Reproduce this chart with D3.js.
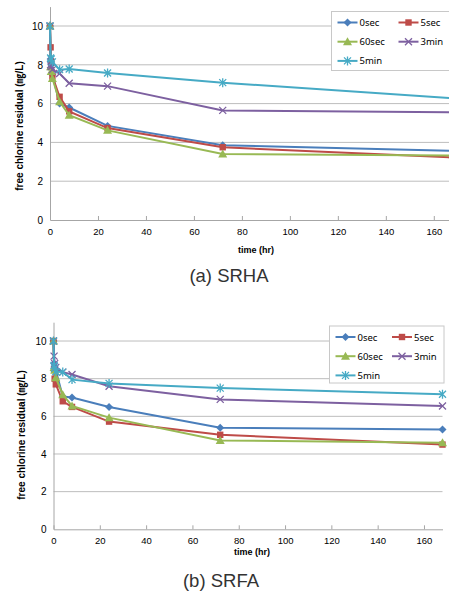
<!DOCTYPE html>
<html><head><meta charset="utf-8">
<script src="https://cdn.jsdelivr.net/npm/d3@7"></script>
<style>
html,body{margin:0;padding:0;background:#fff;overflow:hidden}
svg{display:block}
</style></head>
<body>
<svg id="c" width="449" height="594"></svg>
<script>
const seriesNames = ["0sec", "5sec", "60sec", "3min", "5min"];
const xTicks = [0, 20, 40, 60, 80, 100, 120, 140, 160];
const yTicks = [0, 2, 4, 6, 8, 10];
const timesA = [0, 0.25, 0.5, 1, 4, 8, 24, 72, 168];
const srha0sec  = [10, 8.3, 8.0, 7.5, 6.0, 5.8, 4.85, 3.85, 3.57];
const srha5sec  = [10, 8.9, 8.15, 7.4, 6.35, 5.6, 4.74, 3.75, 3.22];
const srha60sec = [10, 7.9, 7.65, 7.3, 6.1, 5.4, 4.62, 3.4, 3.32];
const srha3min  = [10, 8.0, 7.9, 7.75, 7.55, 7.05, 6.9, 5.65, 5.55];
const srha5min  = [10, 8.35, 8.3, 8.15, 7.75, 7.78, 7.58, 7.08, 6.27];
const timesB = [0, 0.25, 0.5, 1, 4, 8, 24, 72, 168];
const srfa0sec  = [10, 8.8, 8.6, 8.45, 7.05, 7.0, 6.5, 5.4, 5.3];
const srfa5sec  = [10, 8.5, 8.0, 7.7, 6.8, 6.5, 5.72, 5.02, 4.5];
const srfa60sec = [10, 8.6, 8.45, 8.05, 7.15, 6.55, 5.93, 4.72, 4.6];
const srfa3min  = [10, 9.2, 8.8, 8.6, 8.35, 8.22, 7.6, 6.9, 6.55];
const srfa5min  = [10, 8.7, 8.55, 8.37, 8.35, 7.95, 7.75, 7.5, 7.17];

const colors = ["#4a7ebb", "#be4b48", "#98b954", "#7d60a0", "#46aac5"];
const markers = ["diamond", "square", "triangle", "x", "star"];
const svg = d3.select("#c");
const F = "'Liberation Sans', Arial, sans-serif";

function drawMarker(g, type, x, y, color) {
  if (type === "diamond") {
    g.append("path").attr("d", `M${x},${y-4}L${x+4},${y}L${x},${y+4}L${x-4},${y}Z`).attr("fill", color);
  } else if (type === "square") {
    g.append("rect").attr("x", x-3.2).attr("y", y-3.2).attr("width", 6.4).attr("height", 6.4).attr("fill", color);
  } else if (type === "triangle") {
    g.append("path").attr("d", `M${x},${y-4.5}L${x+4.5},${y+3.5}L${x-4.5},${y+3.5}Z`).attr("fill", color);
  } else if (type === "x") {
    g.append("path").attr("d", `M${x-3.5},${y-3.5}L${x+3.5},${y+3.5}M${x-3.5},${y+3.5}L${x+3.5},${y-3.5}`).attr("stroke", color).attr("stroke-width", 1.3);
  } else if (type === "star") {
    g.append("path").attr("d", `M${x-3.5},${y-3.5}L${x+3.5},${y+3.5}M${x-3.5},${y+3.5}L${x+3.5},${y-3.5}M${x},${y-4.5}L${x},${y+4.5}`).attr("stroke", color).attr("stroke-width", 1.3);
  }
}

function panel(cfg) {
  const x = d3.scaleLinear().domain([0, 168]).range([cfg.left, cfg.right]);
  const y = d3.scaleLinear().domain([0, 11]).range([cfg.bottom, cfg.top]);
  const g = svg.append("g");
  g.append("g").selectAll("line").data(yTicks.filter(d => d > 0)).join("line")
    .attr("x1", cfg.left).attr("x2", Math.min(cfg.right, 449))
    .attr("y1", d => y(d)).attr("y2", d => y(d))
    .attr("stroke", "#bdbdbd").attr("stroke-width", 1);
  const ya = g.append("g").attr("transform", `translate(${cfg.left},0)`)
    .call(d3.axisLeft(y).tickValues(yTicks).tickSize(0).tickPadding(7));
  ya.select(".domain").attr("stroke", "#a6a6a6");
  ya.selectAll("text").attr("font-family", F).attr("font-size", 10).attr("fill", "#000");
  const xa = g.append("g").attr("transform", `translate(0,${cfg.bottom})`)
    .call(d3.axisBottom(x).tickValues(xTicks).tickSizeInner(-4).tickSizeOuter(0).tickPadding(8));
  xa.select(".domain").attr("stroke", "#a6a6a6");
  xa.selectAll(".tick line").attr("stroke", "#a6a6a6");
  xa.selectAll("text").attr("font-family", F).attr("font-size", 9.5).attr("fill", "#000");
  const line = d3.line().x(d => x(d[0])).y(d => y(d[1]));
  cfg.series.forEach((vals, i) => {
    const pts = cfg.times.map((t, j) => [t, vals[j]]);
    g.append("path").datum(pts).attr("d", line).attr("fill", "none")
      .attr("stroke", colors[i]).attr("stroke-width", 2);
    pts.forEach(p => drawMarker(g, markers[i], x(p[0]), y(p[1]), colors[i]));
  });
  const L = cfg.legend;
  g.append("rect").attr("x", L.x).attr("y", L.y).attr("width", L.w).attr("height", L.h)
    .attr("fill", "#fff").attr("stroke", "#c8c8c8");
  seriesNames.forEach((n, i) => {
    const col = i % 2, row = Math.floor(i / 2);
    const lx = L.x + 6 + col * L.colW, ly = L.y + 11 + row * L.rowH;
    g.append("line").attr("x1", lx).attr("x2", lx + 20).attr("y1", ly).attr("y2", ly)
      .attr("stroke", colors[i]).attr("stroke-width", 2);
    drawMarker(g, markers[i], lx + 10, ly, colors[i]);
    g.append("text").attr("x", lx + 22).attr("y", ly + 3.5).text(n)
      .attr("font-family", "'Noto Sans', sans-serif").attr("font-size", 9.5).attr("fill", "#000");
  });
  g.append("text").attr("transform", `translate(${cfg.ylabX},${cfg.ylabY}) rotate(-90)`)
    .attr("text-anchor", "middle").attr("font-family", F + ", 'Noto Sans CJK KR'")
    .attr("font-weight", "bold").attr("font-size", 10).text("free chlorine residual (㎎/L)");
  g.append("text").attr("x", cfg.xlabX).attr("y", cfg.xlabY).attr("text-anchor", "middle")
    .attr("font-family", F).attr("font-weight", "bold").attr("font-size", 9).text("time (hr)");
  g.append("text").attr("x", cfg.capX).attr("y", cfg.capY).attr("text-anchor", "middle")
    .attr("font-family", F).attr("font-size", 18.5).attr("fill", "#333").text(cfg.caption);
}

panel({
  left: 50, right: 453, top: 6.6, bottom: 220, times: timesA,
  series: [srha0sec, srha5sec, srha60sec, srha3min, srha5min],
  legend: {x: 331.5, y: 11.5, w: 125, h: 59, colW: 61, rowH: 19.2},
  ylabX: 23, ylabY: 126, xlabX: 256, xlabY: 253, capX: 229, capY: 282, caption: "(a) SRHA"
});
panel({
  left: 53.5, right: 442.5, top: 322.2, bottom: 529.3, times: timesB,
  series: [srfa0sec, srfa5sec, srfa60sec, srfa3min, srfa5min],
  legend: {x: 329.5, y: 326, w: 114.5, h: 57, colW: 56.5, rowH: 19.2},
  ylabX: 25, ylabY: 435, xlabX: 252, xlabY: 555, capX: 221, capY: 587, caption: "(b) SRFA"
});
</script>
</body></html>
